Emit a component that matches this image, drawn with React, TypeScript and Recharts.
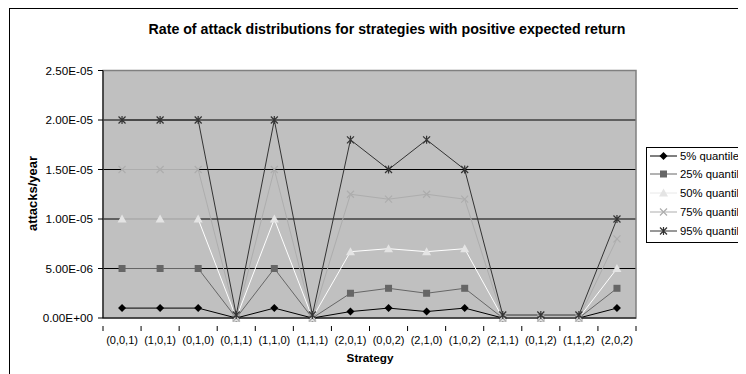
import React from "react";
import {
  LineChart,
  Line,
  XAxis,
  YAxis,
  CartesianGrid,
  ReferenceArea,
} from "recharts";

const strategies = [
  "(0,0,1)", "(1,0,1)", "(0,1,0)", "(0,1,1)", "(1,1,0)", "(1,1,1)", "(2,0,1)",
  "(0,0,2)", "(2,1,0)", "(1,0,2)", "(2,1,1)", "(0,1,2)", "(1,1,2)", "(2,0,2)",
];

const q05 = [1e-6, 1e-6, 1e-6, 0, 1e-6, 0, 6.5e-7, 1e-6, 6.5e-7, 1e-6, 0, 0, 0, 1e-6];
const q25 = [5e-6, 5e-6, 5e-6, 0, 5e-6, 0, 2.5e-6, 3e-6, 2.5e-6, 3e-6, 0, 0, 0, 3e-6];
const q50 = [1e-5, 1e-5, 1e-5, 0, 1e-5, 0, 6.7e-6, 7e-6, 6.7e-6, 7e-6, 0, 0, 0, 5e-6];
const q75 = [1.5e-5, 1.5e-5, 1.5e-5, 0, 1.5e-5, 0, 1.25e-5, 1.2e-5, 1.25e-5, 1.2e-5, 0, 0, 0, 8e-6];
const q95 = [2e-5, 2e-5, 2e-5, 3e-7, 2e-5, 3e-7, 1.8e-5, 1.5e-5, 1.8e-5, 1.5e-5, 3e-7, 3e-7, 3e-7, 1e-5];

const yTicks = [0, 5e-6, 1e-5, 1.5e-5, 2e-5, 2.5e-5];

const data = strategies.map((name, i) => ({
  name,
  q05: q05[i],
  q25: q25[i],
  q50: q50[i],
  q75: q75[i],
  q95: q95[i],
}));

const W = 738;
const H = 366;
const margin = { top: 62.5, right: 110, bottom: 26, left: 35 };
const yAxisWidth = 60;
const plotWidth = W - margin.left - margin.right - yAxisWidth;
const step = plotWidth / strategies.length;
const font = "'Liberation Sans', Arial, sans-serif";

// Excel style scientific notation, e.g. 2.50E-05
const sci = (v: number) => {
  const [m, e] = v.toExponential(2).split("e");
  const n = parseInt(e, 10);
  return `${m}E${n < 0 ? "-" : "+"}${String(Math.abs(n)).padStart(2, "0")}`;
};

type Shape = "diamond" | "square" | "triangle" | "cross" | "star";

const Marker = ({ shape, x, y, color }: { shape: Shape; x: number; y: number; color: string }) => {
  switch (shape) {
    case "diamond":
      return <path d={`M${x},${y - 4}L${x + 4},${y}L${x},${y + 4}L${x - 4},${y}Z`} fill={color} />;
    case "square":
      return <rect x={x - 3.5} y={y - 3.5} width={7} height={7} fill={color} />;
    case "triangle":
      return <path d={`M${x},${y - 4.5}L${x + 4.5},${y + 3.5}L${x - 4.5},${y + 3.5}Z`} fill={color} />;
    case "cross":
      return (
        <path d={`M${x - 3.5},${y - 3.5}L${x + 3.5},${y + 3.5}M${x + 3.5},${y - 3.5}L${x - 3.5},${y + 3.5}`}
          stroke={color} strokeWidth={1.2} />
      );
    default:
      return (
        <path
          d={`M${x - 3.5},${y - 3.5}L${x + 3.5},${y + 3.5}M${x + 3.5},${y - 3.5}L${x - 3.5},${y + 3.5}M${x},${y - 4}L${x},${y + 4}`}
          stroke={color} strokeWidth={1.2} />
      );
  }
};

const series: { key: string; name: string; line: string; mark: string; shape: Shape }[] = [
  { key: "q05", name: "5% quantile", line: "#000000", mark: "#000000", shape: "diamond" },
  { key: "q25", name: "25% quantile", line: "#666666", mark: "#666666", shape: "square" },
  { key: "q50", name: "50% quantile", line: "#ffffff", mark: "#e4e4e4", shape: "triangle" },
  { key: "q75", name: "75% quantile", line: "#adadad", mark: "#adadad", shape: "cross" },
  { key: "q95", name: "95% quantile", line: "#333333", mark: "#333333", shape: "star" },
];

// category label plus tick marks on the boundaries between categories
const CategoryTick = (props: any) => {
  const { x, y, payload, index } = props;
  const left = x - step / 2;
  return (
    <g>
      <line x1={left} y1={y} x2={left} y2={y + 5} stroke="#000" />
      {index === strategies.length - 1 && (
        <line x1={x + step / 2} y1={y} x2={x + step / 2} y2={y + 5} stroke="#000" />
      )}
      <text x={x} y={y + 18} textAnchor="middle" fontSize={11} fontFamily={font} fill="#000">
        {payload.value}
      </text>
    </g>
  );
};

export default function App() {
  return (
    <div style={{ position: "relative", width: W, height: H, overflow: "hidden", fontFamily: font }}>
      <div style={{ position: "absolute", left: 1, top: 0, width: W + 20, height: H + 20, borderLeft: "1.5px solid #000", borderTop: "1.5px solid #000" }} />
      <div style={{ position: "absolute", left: 8, top: 13, width: 742, textAlign: "center", fontSize: 14.2, fontWeight: "bold" }}>
        Rate of attack distributions for strategies with positive expected return
      </div>
      <div style={{ position: "absolute", left: 24 - 50, top: 186 - 8, width: 100, textAlign: "center", fontSize: 13, fontWeight: "bold", transform: "rotate(-90deg)" }}>
        attacks/year
      </div>
      <div style={{ position: "absolute", left: 312, top: 343, width: 100, textAlign: "center", fontSize: 11.7, fontWeight: "bold" }}>
        Strategy
      </div>
      <LineChart width={W} height={H} data={data} margin={margin} style={{ position: "absolute", left: 0, top: 0 }}>
        <CartesianGrid fill="#c0c0c0" vertical={false} stroke="#000" strokeOpacity={1} horizontalValues={yTicks.slice(1, -1)} />
        <ReferenceArea y1={0} y2={2.5e-5} fill="none" stroke="#808080" strokeWidth={1.5} ifOverflow="visible" />
        <XAxis
          dataKey="name"
          scale="band"
          tickLine={false}
          axisLine={{ stroke: "#000" }}
          tick={<CategoryTick />}
          interval={0}
          height={30}
        />
        <YAxis
          domain={[0, 2.5e-5]}
          ticks={yTicks}
          width={yAxisWidth}
          tickFormatter={sci}
          tickSize={5}
          tickMargin={5}
          tick={{ fill: "#000", fontSize: 11.7, fontFamily: font }}
          tickLine={{ stroke: "#000" }}
          axisLine={{ stroke: "#000" }}
        />
        {series.map((s) => (
          <Line
            key={s.key}
            dataKey={s.key}
            name={s.name}
            stroke={s.line}
            strokeWidth={1}
            isAnimationActive={false}
            activeDot={false}
            dot={(p: any) => <Marker key={`${s.key}-${p.index}`} shape={s.shape} x={p.cx} y={p.cy} color={s.mark} />}
          />
        ))}
      </LineChart>
      <div style={{ position: "absolute", left: 638, top: 138.5, width: 120, height: 94, border: "1px solid #000", background: "#fff" }}>
        {series.map((s, i) => (
          <div key={s.key} style={{ position: "absolute", left: 0, top: i * 18.8, height: 16, display: "flex", alignItems: "center", fontSize: 11.3, whiteSpace: "nowrap" }}>
            <svg width={33} height={16}>
              <line x1={3} y1={8} x2={30} y2={8} stroke={s.key === "q50" ? "#e8e8e8" : s.line} />
              <Marker shape={s.shape} x={16.5} y={8} color={s.mark} />
            </svg>
            <span>{s.name}</span>
          </div>
        ))}
      </div>
    </div>
  );
}
